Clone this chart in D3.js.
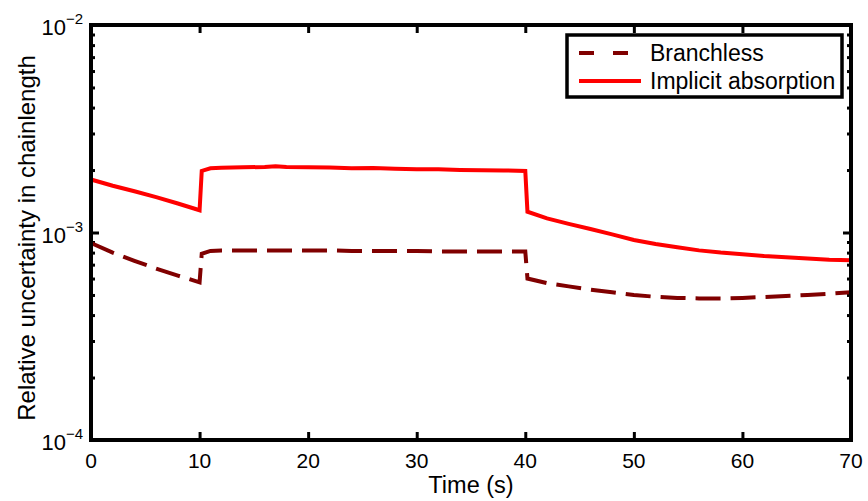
<!DOCTYPE html>
<html>
<head>
<meta charset="utf-8">
<script src="https://cdn.jsdelivr.net/npm/d3@7"></script>
<style>
  body { margin: 0; background: #fff; }
  text { font-family: "Liberation Sans", Arial, sans-serif; fill: #000; }
</style>
</head>
<body>
<svg id="viz"></svg>
<script>
// time points (s)
var times = [0, 2, 4, 6, 8, 10, 10.2, 11, 12, 14, 16, 17, 18, 20, 22, 24, 26, 28, 30, 32, 34, 36, 38, 40,
             40.2, 42, 44, 46, 48, 50, 52, 54, 56, 58, 60, 62, 64, 66, 68, 70];

// relative uncertainty, branchless
var branchless = [8.9e-4, 8.0e-4, 7.3e-4, 6.7e-4, 6.2e-4, 5.75e-4, 7.9e-4, 8.15e-4, 8.2e-4, 8.2e-4, 8.2e-4, 8.2e-4,
                  8.2e-4, 8.2e-4, 8.2e-4, 8.15e-4, 8.15e-4, 8.15e-4, 8.15e-4, 8.1e-4, 8.1e-4, 8.1e-4, 8.1e-4, 8.1e-4,
                  6.0e-4, 5.7e-4, 5.5e-4, 5.3e-4, 5.15e-4, 5.0e-4, 4.9e-4, 4.84e-4, 4.81e-4, 4.81e-4, 4.84e-4,
                  4.89e-4, 4.94e-4, 5.0e-4, 5.07e-4, 5.15e-4];

// relative uncertainty, implicit absorption
var implicitAbs = [1.80e-3, 1.68e-3, 1.58e-3, 1.48e-3, 1.38e-3, 1.28e-3, 1.98e-3, 2.04e-3, 2.05e-3, 2.06e-3, 2.07e-3,
                   2.085e-3, 2.07e-3, 2.06e-3, 2.055e-3, 2.04e-3, 2.045e-3, 2.03e-3, 2.02e-3, 2.015e-3, 2.00e-3, 1.995e-3,
                   1.99e-3, 1.98e-3, 1.26e-3, 1.17e-3, 1.10e-3, 1.04e-3, 0.98e-3, 0.92e-3, 0.88e-3, 0.85e-3,
                   0.82e-3, 0.80e-3, 0.785e-3, 0.77e-3, 0.76e-3, 0.75e-3, 0.74e-3, 0.735e-3];

var seriesNames = ['Branchless', 'Implicit absorption'];
var xTicks = [0, 10, 20, 30, 40, 50, 60, 70];
var yMajor = [1e-4, 1e-3, 1e-2];
var yExponents = [-4, -3, -2];

var width = 868, height = 501;
var margin = {top: 25, right: 17, bottom: 61, left: 91};
var drawWidth = width - margin.left - margin.right;
var drawHeight = height - margin.top - margin.bottom;

var svg = d3.select('#viz').attr('width', width).attr('height', height);
var g = svg.append('g').attr('transform', `translate(${margin.left}, ${margin.top})`);

var xScale = d3.scaleLinear().domain([0, 70]).range([0, drawWidth]);
var yScale = d3.scaleLog().domain([1e-4, 1e-2]).range([drawHeight, 0]);

// minor ticks of the log axis
var yMinor = yScale.ticks().filter(function(v){ return yMajor.indexOf(v) < 0; });

function styleAxis(sel) {
    sel.select('.domain').remove();
    sel.selectAll('.tick line').attr('stroke', '#000').attr('stroke-width', 3);
}

// ticks pointing into the plot on all four sides
g.append('g').attr('transform', `translate(0, ${drawHeight})`)
 .call(d3.axisBottom(xScale).tickValues(xTicks).tickSize(-8).tickFormat(''))
 .call(styleAxis);
g.append('g')
 .call(d3.axisTop(xScale).tickValues(xTicks).tickSize(-8).tickFormat(''))
 .call(styleAxis);
g.append('g')
 .call(d3.axisLeft(yScale).tickValues(yMajor).tickSize(-8).tickFormat(''))
 .call(styleAxis);
g.append('g')
 .call(d3.axisLeft(yScale).tickValues(yMinor).tickSize(-4).tickFormat(''))
 .call(styleAxis);
g.append('g').attr('transform', `translate(${drawWidth}, 0)`)
 .call(d3.axisRight(yScale).tickValues(yMajor).tickSize(-8).tickFormat(''))
 .call(styleAxis);
g.append('g').attr('transform', `translate(${drawWidth}, 0)`)
 .call(d3.axisRight(yScale).tickValues(yMinor).tickSize(-4).tickFormat(''))
 .call(styleAxis);

// x tick labels
g.selectAll('.xlab').data(xTicks).enter().append('text')
 .attr('class', 'xlab')
 .attr('x', function(d){ return xScale(d); })
 .attr('y', drawHeight + 28)
 .attr('text-anchor', 'middle')
 .style('font-size', '21px')
 .text(function(d){ return d; });

// y tick labels 10^n
var ylab = g.selectAll('.ylab').data(yMajor).enter().append('text')
 .attr('class', 'ylab')
 .attr('x', -8)
 .attr('y', function(d){ return yScale(d) + 10; })
 .attr('text-anchor', 'end')
 .style('font-size', '22px');
ylab.append('tspan').text('10');
ylab.append('tspan').attr('dy', -11).style('font-size', '15px')
    .text(function(d, i){ return '\u2212' + Math.abs(yExponents[i]); });

// data lines
var line = d3.line()
    .x(function(d){ return xScale(d[0]); })
    .y(function(d){ return yScale(d[1]); });

g.append('path')
 .datum(times.map(function(t, i){ return [t, branchless[i]]; }))
 .attr('d', line)
 .attr('fill', 'none')
 .attr('stroke', '#800000')
 .attr('stroke-width', 4)
 .attr('stroke-dasharray', '25,10');

g.append('path')
 .datum(times.map(function(t, i){ return [t, implicitAbs[i]]; }))
 .attr('d', line)
 .attr('fill', 'none')
 .attr('stroke', '#ff0000')
 .attr('stroke-width', 4);

// plot frame
g.append('rect')
 .attr('width', drawWidth).attr('height', drawHeight)
 .attr('fill', 'none').attr('stroke', '#000').attr('stroke-width', 4);

// axis titles
svg.append('text')
 .attr('x', margin.left + drawWidth / 2)
 .attr('y', 493)
 .attr('text-anchor', 'middle')
 .style('font-size', '23.5px')
 .text('Time (s)');

svg.append('text')
 .attr('transform', 'translate(35, 238) rotate(-90)')
 .attr('text-anchor', 'middle')
 .style('font-size', '24px')
 .text('Relative uncertainty in chainlength');

// legend
var legend = svg.append('g').attr('transform', 'translate(567, 35)');
legend.append('rect')
 .attr('width', 275).attr('height', 62)
 .attr('fill', '#fff').attr('stroke', '#000').attr('stroke-width', 3.5);
var colors = ['#800000', '#ff0000'];
var dashes = ['15,19', null];
seriesNames.forEach(function(name, i){
    var yy = 18 + i * 28;
    legend.append('line')
      .attr('x1', 12).attr('x2', 74).attr('y1', yy).attr('y2', yy)
      .attr('stroke', colors[i]).attr('stroke-width', 4)
      .attr('stroke-dasharray', dashes[i]);
    legend.append('text')
      .attr('x', 83).attr('y', yy + 8)
      .style('font-size', '23px')
      .text(name);
});
</script>
</body>
</html>
